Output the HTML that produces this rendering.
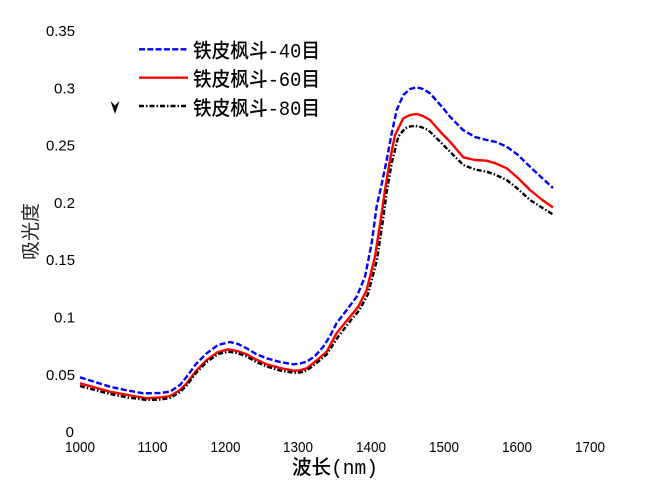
<!DOCTYPE html>
<html>
<head>
<meta charset="utf-8">
<style>
html,body{margin:0;padding:0;background:#fff;}
svg{display:block;}
.t{font-family:"Liberation Sans",Arial,sans-serif;font-size:15px;fill:#000;}
.c{font-family:"Noto Sans CJK SC",sans-serif;font-size:20px;fill:#000;font-weight:500;}
.m{font-family:"Liberation Mono",monospace;font-weight:normal;}
</style>
</head>
<body>
<svg width="645" height="490" viewBox="0 0 645 490" xmlns="http://www.w3.org/2000/svg">
<rect width="645" height="490" fill="#fff"/>

<!-- Y tick labels -->
<g class="t" text-anchor="end">
<text x="75" y="36" textLength="29" lengthAdjust="spacingAndGlyphs">0.35</text>
<text x="75" y="93.3" textLength="21" lengthAdjust="spacingAndGlyphs">0.3</text>
<text x="75" y="150.6" textLength="29" lengthAdjust="spacingAndGlyphs">0.25</text>
<text x="75" y="207.9" textLength="21" lengthAdjust="spacingAndGlyphs">0.2</text>
<text x="75" y="265.2" textLength="29" lengthAdjust="spacingAndGlyphs">0.15</text>
<text x="75" y="322.5" textLength="21" lengthAdjust="spacingAndGlyphs">0.1</text>
<text x="75" y="379.8" textLength="29" lengthAdjust="spacingAndGlyphs">0.05</text>
<text x="74" y="437.1">0</text>
</g>

<!-- X tick labels -->
<g class="t" text-anchor="middle">
<text x="80" y="452" textLength="30" lengthAdjust="spacingAndGlyphs">1000</text>
<text x="152.5" y="452" textLength="30" lengthAdjust="spacingAndGlyphs">1100</text>
<text x="225.5" y="452" textLength="30" lengthAdjust="spacingAndGlyphs">1200</text>
<text x="298" y="452" textLength="30" lengthAdjust="spacingAndGlyphs">1300</text>
<text x="371" y="452" textLength="30" lengthAdjust="spacingAndGlyphs">1400</text>
<text x="444" y="452" textLength="30" lengthAdjust="spacingAndGlyphs">1500</text>
<text x="517" y="452" textLength="30" lengthAdjust="spacingAndGlyphs">1600</text>
<text x="590" y="452" textLength="30" lengthAdjust="spacingAndGlyphs">1700</text>
</g>

<!-- Axis titles -->
<text class="c" x="292" y="474" textLength="86" lengthAdjust="spacingAndGlyphs">波长<tspan class="m">(nm)</tspan></text>
<text class="c" style="font-weight:400;fill:#222;font-size:19px" transform="translate(37,231.5) rotate(-90)" text-anchor="middle" textLength="57" lengthAdjust="spacingAndGlyphs">吸光度</text>

<!-- Curves -->
<g fill="none" stroke-linejoin="round" stroke-width="2.4">
<polyline stroke="#0000ff" stroke-dasharray="6,2.5" points="80,377.3 95,382 110,386.7 125,390 143.3,393.3 160,393 170,391.7 180,385 186.7,376.7 196,364 206.7,353.3 218,345 230,342 238,344 246.7,348.3 256,354 266.7,358.3 280,362 293.3,364.3 300,363.5 306.7,361.7 315,356 323.3,346.7 330,336 336.7,323 346.7,310 356.7,296.7 365,276.7 371.7,243 376.7,206 381.7,184 386.7,160 391.7,133.3 396.7,110 403.3,95 410,89 416.7,87.3 423,89 430,93.3 443.3,108.3 450,116.7 463,130 475,137 486.7,140 496,142 506.7,146.7 518,155 530,166.7 541,177 553,188"/>
<polyline stroke="#ff0000" points="80,383.3 95,387.5 110,391.7 128,395 146.7,398.3 160,397.5 170,396 180,390 186.7,383.3 196,371 206.7,360 218,352 228.3,349.3 237,351 246.7,354.3 256,359.5 266.7,364.3 280,368 293.3,370.7 300,370.3 306.7,368.3 316,361 326.7,351.7 336.7,333 350,316.7 358.3,306.7 366.7,290 375,256.7 381.7,213 385,190 390,160 395,135 403.3,118.3 410,115 416.7,114 423,116 430,120 441.7,133.3 450,141.7 463.3,157.3 475,160 486.7,160.7 496,163.5 506.7,168.3 518,178 530,190 541,199 553,207.5"/>
<polyline stroke="#000000" stroke-dasharray="5,2,1.5,2" points="80,386 95,390 110,394 128,397.5 146.7,400 160,399.5 170,398 180,392 186.7,385.5 196,373 206.7,362 218,354 228.3,351.7 237,353 246.7,356.5 256,362 266.7,366.5 280,370.5 293.3,372.7 300,372.5 306.7,370.5 316,363.5 326.7,354.5 338,337 351,320 359.5,310 368,294 377,260 383,220 386.7,192 391.7,163.3 398.3,136.7 405,128.3 410,126.5 415,125.7 421,127 428.3,130 441.7,143.3 450,151.7 463.3,165 475,169.5 486.7,171.7 496,175 506.7,180 518,189 530,200 541,207 553,214.5"/>
</g>

<!-- Legend -->
<g stroke-width="2.4">
<line x1="139" y1="49.3" x2="188" y2="49.3" stroke="#0000ff" stroke-dasharray="6,2.3"/>
<line x1="139" y1="77.7" x2="188" y2="77.7" stroke="#ff0000"/>
<line x1="139" y1="106" x2="188" y2="106" stroke="#000" stroke-dasharray="5,2,1.5,2"/>
</g>
<g class="c">
<text x="193" y="57.5" textLength="127" lengthAdjust="spacingAndGlyphs">铁皮枫斗<tspan class="m">-40</tspan>目</text>
<text x="193" y="86" textLength="127" lengthAdjust="spacingAndGlyphs">铁皮枫斗<tspan class="m">-60</tspan>目</text>
<text x="193" y="115" textLength="127" lengthAdjust="spacingAndGlyphs">铁皮枫斗<tspan class="m">-80</tspan>目</text>
</g>

<!-- arrow marker -->
<polygon points="110.5,101 115,105.5 119.5,101 115,114" fill="#000"/>
</svg>
</body>
</html>
